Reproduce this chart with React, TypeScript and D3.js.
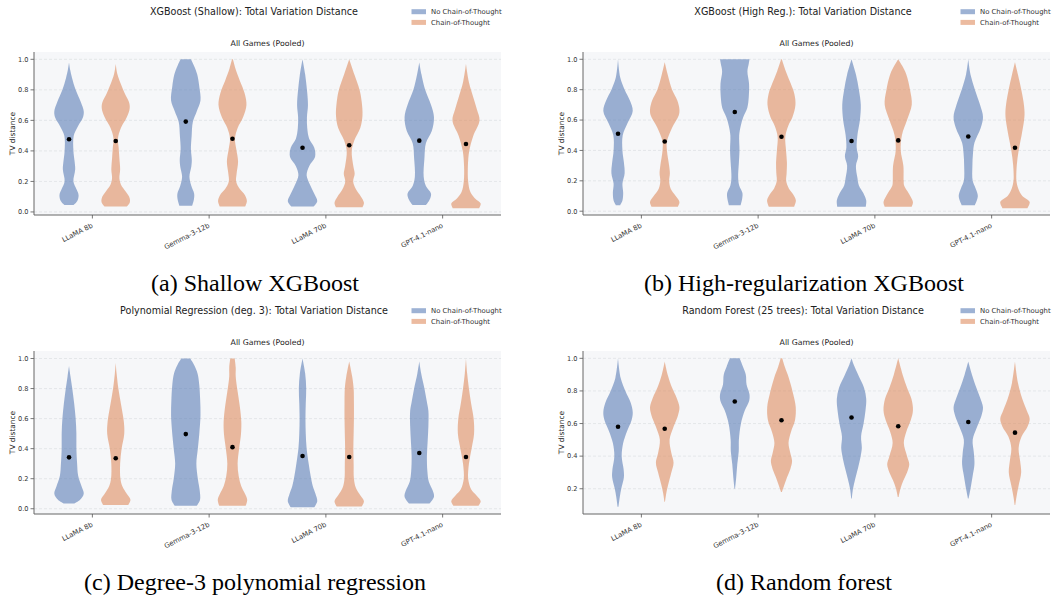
import React from "react";
import * as d3 from "d3";

const W = 1055;
const H = 596;

const models = ["LLaMA 8b", "Gemma-3-12b", "LLaMA 70b", "GPT-4.1-nano"];
const seriesNames = ["No Chain-of-Thought", "Chain-of-Thought"];
const seriesColors = ["#4c72b0", "#dd8452"];

const suptitles = [
  "XGBoost (Shallow): Total Variation Distance",
  "XGBoost (High Reg.): Total Variation Distance",
  "Polynomial Regression (deg. 3): Total Variation Distance",
  "Random Forest (25 trees): Total Variation Distance",
];
const captions = [
  "(a) Shallow XGBoost",
  "(b) High-regularization XGBoost",
  "(c) Degree-3 polynomial regression",
  "(d) Random forest",
];
const subTitle = "All Games (Pooled)";
const yLabel = "TV distance";

const yTicksFull = [0, 0.2, 0.4, 0.6, 0.8, 1.0];
const yTicksForest = [0.2, 0.4, 0.6, 0.8, 1.0];
const yDomainA = [-0.02, 1.048];
const yDomainB = [-0.025, 1.048];
const yDomainC = [-0.035, 1.05];
const yDomainD = [0.045, 1.045];

// mean markers
const shallowNoCotMeans = [0.476, 0.592, 0.421, 0.467];
const shallowCotMeans = [0.465, 0.48, 0.437, 0.445];
const highRegNoCotMeans = [0.51, 0.653, 0.462, 0.492];
const highRegCotMeans = [0.459, 0.49, 0.466, 0.418];
const polyNoCotMeans = [0.342, 0.497, 0.351, 0.371];
const polyCotMeans = [0.336, 0.41, 0.344, 0.344];
const forestNoCotMeans = [0.58, 0.735, 0.637, 0.609];
const forestCotMeans = [0.568, 0.62, 0.583, 0.544];

// violin profiles: [TV distance, relative half-width]
const shallowNoCotShapes = [
  [[0.045,0.3],[0.07,0.55],[0.11,0.65],[0.15,0.5],[0.2,0.3],[0.28,0.42],[0.33,0.38],[0.4,0.3],[0.5,0.32],[0.56,0.6],[0.62,0.95],[0.66,1.0],[0.72,0.8],[0.8,0.45],[0.88,0.2],[0.93,0.08],[0.98,0]],
  [[0.04,0.43],[0.08,0.55],[0.12,0.57],[0.17,0.38],[0.23,0.25],[0.3,0.38],[0.34,0.41],[0.41,0.35],[0.5,0.4],[0.59,0.48],[0.66,0.75],[0.73,1.0],[0.82,0.92],[0.9,0.78],[0.96,0.55],[1.0,0.35]],
  [[0.035,0.75],[0.07,1.0],[0.12,0.8],[0.18,0.5],[0.24,0.28],[0.3,0.45],[0.36,0.85],[0.42,0.8],[0.48,0.45],[0.55,0.32],[0.62,0.3],[0.7,0.37],[0.8,0.3],[0.9,0.18],[1.0,0]],
  [[0.045,0.45],[0.08,0.7],[0.12,0.8],[0.17,0.45],[0.23,0.3],[0.35,0.35],[0.45,0.45],[0.53,0.85],[0.62,1.0],[0.7,0.8],[0.8,0.4],[0.9,0.15],[0.98,0]],
];
const shallowCotShapes = [
  [[0.035,0.75],[0.06,0.95],[0.09,0.95],[0.13,0.7],[0.18,0.35],[0.22,0.25],[0.28,0.3],[0.35,0.25],[0.42,0.2],[0.48,0.15],[0.55,0.35],[0.62,0.75],[0.68,0.95],[0.72,0.9],[0.78,0.6],[0.85,0.3],[0.9,0.12],[0.97,0]],
  [[0.035,0.86],[0.07,0.98],[0.11,0.85],[0.15,0.5],[0.2,0.25],[0.25,0.28],[0.33,0.38],[0.41,0.26],[0.48,0.17],[0.55,0.35],[0.62,0.72],[0.7,0.95],[0.78,0.82],[0.86,0.5],[0.94,0.2],[1.0,0.03]],
  [[0.03,0.9],[0.06,1.0],[0.1,0.8],[0.15,0.45],[0.2,0.27],[0.25,0.37],[0.3,0.28],[0.4,0.17],[0.47,0.35],[0.55,0.75],[0.63,0.9],[0.72,0.85],[0.8,0.7],[0.9,0.35],[1.0,0]],
  [[0.025,0.9],[0.055,1.0],[0.09,0.6],[0.13,0.3],[0.2,0.15],[0.3,0.13],[0.4,0.22],[0.5,0.5],[0.6,0.92],[0.67,0.75],[0.75,0.5],[0.85,0.2],[0.97,0]],
];
const highRegNoCotShapes = [
  [[0.04,0.15],[0.07,0.3],[0.12,0.35],[0.18,0.3],[0.25,0.45],[0.32,0.4],[0.4,0.3],[0.5,0.32],[0.58,0.65],[0.66,1.0],[0.73,0.8],[0.8,0.45],[0.88,0.15],[1.0,0]],
  [[0.04,0.4],[0.08,0.5],[0.12,0.52],[0.17,0.3],[0.22,0.23],[0.32,0.28],[0.4,0.32],[0.5,0.3],[0.56,0.4],[0.62,0.58],[0.68,0.85],[0.75,0.95],[0.84,0.97],[0.92,0.86],[0.97,0.95],[1.0,1.0]],
  [[0.03,0.97],[0.07,1.0],[0.12,0.8],[0.17,0.5],[0.22,0.4],[0.3,0.3],[0.36,0.45],[0.42,0.35],[0.5,0.4],[0.6,0.57],[0.7,0.63],[0.8,0.5],[0.9,0.3],[1.0,0]],
  [[0.04,0.45],[0.1,0.65],[0.15,0.5],[0.2,0.3],[0.3,0.28],[0.38,0.32],[0.45,0.42],[0.55,0.85],[0.62,1.0],[0.7,0.8],[0.8,0.45],[0.9,0.15],[1.0,0]],
];
const highRegCotShapes = [
  [[0.03,0.9],[0.06,1.0],[0.1,0.75],[0.15,0.4],[0.2,0.3],[0.25,0.35],[0.3,0.3],[0.4,0.15],[0.46,0.15],[0.55,0.5],[0.63,0.95],[0.67,1.0],[0.73,0.85],[0.8,0.5],[0.9,0.2],[0.98,0]],
  [[0.03,0.86],[0.07,0.98],[0.11,0.8],[0.15,0.5],[0.2,0.32],[0.25,0.35],[0.32,0.37],[0.4,0.31],[0.49,0.26],[0.56,0.45],[0.62,0.75],[0.7,0.95],[0.77,0.88],[0.84,0.63],[0.92,0.3],[1.0,0.02]],
  [[0.03,0.92],[0.06,1.0],[0.12,0.7],[0.17,0.4],[0.2,0.37],[0.3,0.35],[0.4,0.17],[0.5,0.25],[0.6,0.6],[0.7,0.92],[0.8,0.8],[0.9,0.55],[0.96,0.25],[1.0,0]],
  [[0.02,0.85],[0.06,1.0],[0.1,0.5],[0.15,0.22],[0.2,0.1],[0.3,0.12],[0.4,0.25],[0.5,0.45],[0.6,0.62],[0.65,0.65],[0.72,0.58],[0.8,0.43],[0.9,0.2],[0.98,0]],
];
const polyNoCotShapes = [
  [[0.035,0.35],[0.06,0.75],[0.1,1.0],[0.15,0.85],[0.22,0.62],[0.3,0.55],[0.4,0.5],[0.5,0.5],[0.6,0.45],[0.7,0.35],[0.8,0.22],[0.88,0.1],[0.95,0]],
  [[0.02,0.75],[0.06,0.97],[0.12,0.95],[0.2,0.82],[0.3,0.72],[0.4,0.82],[0.5,0.92],[0.62,1.0],[0.72,0.98],[0.82,0.92],[0.9,0.8],[0.96,0.55],[1.0,0.3]],
  [[0.01,0.8],[0.05,1.0],[0.1,0.88],[0.15,0.7],[0.22,0.55],[0.3,0.42],[0.4,0.28],[0.5,0.22],[0.6,0.2],[0.7,0.22],[0.8,0.25],[0.9,0.18],[1.0,0]],
  [[0.035,0.7],[0.08,1.0],[0.12,0.92],[0.18,0.65],[0.25,0.55],[0.35,0.52],[0.45,0.57],[0.55,0.62],[0.65,0.62],[0.72,0.5],[0.8,0.35],[0.9,0.13],[0.98,0]],
];
const polyCotShapes = [
  [[0.025,0.85],[0.06,1.0],[0.1,0.75],[0.15,0.45],[0.2,0.32],[0.3,0.3],[0.4,0.4],[0.5,0.58],[0.58,0.55],[0.7,0.35],[0.8,0.18],[0.9,0.06],[0.97,0]],
  [[0.02,0.9],[0.06,1.0],[0.1,0.85],[0.15,0.6],[0.22,0.42],[0.3,0.35],[0.4,0.45],[0.5,0.58],[0.58,0.6],[0.68,0.5],[0.78,0.35],[0.88,0.22],[0.94,0.22],[1.0,0.15]],
  [[0.015,0.85],[0.05,1.0],[0.09,0.75],[0.14,0.45],[0.2,0.32],[0.3,0.3],[0.4,0.28],[0.5,0.3],[0.6,0.32],[0.7,0.32],[0.8,0.3],[0.88,0.2],[0.98,0]],
  [[0.02,0.85],[0.05,1.0],[0.09,0.7],[0.13,0.35],[0.2,0.15],[0.3,0.2],[0.4,0.38],[0.5,0.55],[0.6,0.52],[0.7,0.35],[0.8,0.2],[0.9,0.08],[1.0,0]],
];
const forestNoCotShapes = [
  [[0.09,0.03],[0.15,0.12],[0.2,0.22],[0.27,0.4],[0.32,0.38],[0.4,0.25],[0.48,0.35],[0.55,0.6],[0.62,0.92],[0.67,1.0],[0.73,0.85],[0.8,0.5],[0.88,0.18],[1.0,0]],
  [[0.2,0.02],[0.27,0.1],[0.35,0.17],[0.43,0.27],[0.5,0.28],[0.6,0.42],[0.68,0.68],[0.74,0.98],[0.78,1.0],[0.84,0.8],[0.9,0.75],[0.95,0.55],[1.0,0.33]],
  [[0.14,0.02],[0.2,0.1],[0.26,0.25],[0.33,0.45],[0.4,0.62],[0.45,0.7],[0.52,0.65],[0.6,0.82],[0.68,0.95],[0.75,1.0],[0.82,0.85],[0.9,0.45],[0.96,0.15],[1.0,0]],
  [[0.14,0.02],[0.2,0.15],[0.28,0.3],[0.35,0.42],[0.42,0.38],[0.5,0.3],[0.58,0.6],[0.65,0.9],[0.7,1.0],[0.76,0.8],[0.82,0.55],[0.9,0.25],[0.98,0]],
];
const forestCotShapes = [
  [[0.12,0.02],[0.17,0.1],[0.22,0.22],[0.3,0.45],[0.36,0.6],[0.42,0.45],[0.5,0.33],[0.58,0.6],[0.65,0.9],[0.7,1.0],[0.76,0.8],[0.82,0.5],[0.9,0.2],[0.98,0]],
  [[0.18,0.03],[0.22,0.18],[0.27,0.38],[0.32,0.6],[0.37,0.72],[0.42,0.6],[0.48,0.48],[0.55,0.65],[0.62,0.92],[0.7,0.97],[0.78,0.8],[0.88,0.5],[0.95,0.22],[1.0,0.05]],
  [[0.15,0.03],[0.2,0.15],[0.25,0.35],[0.3,0.6],[0.35,0.75],[0.4,0.6],[0.48,0.38],[0.55,0.55],[0.62,0.85],[0.68,1.0],[0.75,0.9],[0.82,0.6],[0.9,0.3],[1.0,0]],
  [[0.1,0.02],[0.15,0.1],[0.22,0.25],[0.3,0.42],[0.37,0.35],[0.45,0.25],[0.52,0.45],[0.58,0.85],[0.63,1.0],[0.68,0.8],[0.75,0.5],[0.85,0.2],[0.98,0]],
];

const panels = [
  { dx: 0, dy: 0, title: suptitles[0], caption: captions[0], yDomain: yDomainA, yTicks: yTicksFull,
    means: [shallowNoCotMeans, shallowCotMeans], shapes: [shallowNoCotShapes, shallowCotShapes] },
  { dx: 549, dy: 0, title: suptitles[1], caption: captions[1], yDomain: yDomainB, yTicks: yTicksFull,
    means: [highRegNoCotMeans, highRegCotMeans], shapes: [highRegNoCotShapes, highRegCotShapes] },
  { dx: 0, dy: 299, title: suptitles[2], caption: captions[2], yDomain: yDomainC, yTicks: yTicksFull,
    means: [polyNoCotMeans, polyCotMeans], shapes: [polyNoCotShapes, polyCotShapes] },
  { dx: 549, dy: 299, title: suptitles[3], caption: captions[3], yDomain: yDomainD, yTicks: yTicksForest,
    means: [forestNoCotMeans, forestCotMeans], shapes: [forestNoCotShapes, forestCotShapes] },
];

const AX_L = 34, AX_R = 501, AX_T = 52, AX_B = 215;
const SANS = "'DejaVu Sans', sans-serif";

function Panel({ p }: { p: any }) {
  const x = d3.scaleBand<string>().domain(models).range([AX_L, AX_R]).padding(0);
  const bw = x.bandwidth();
  const y = d3.scaleLinear().domain(p.yDomain).range([AX_B, AX_T]);
  const wScale = d3.scaleLinear().domain([0, 1]).range([0, bw * 0.126]);
  const offsets = [-0.2 * bw, 0.2 * bw];

  return (
    <g transform={`translate(${p.dx},${p.dy})`}>
      <text x={254} y={14.5} textAnchor="middle" fontFamily={SANS} fontSize={9.6} fill="#222">{p.title}</text>
      {seriesNames.map((s, i) => (
        <g key={s}>
          <rect x={411.5} y={9.2 + i * 10.7} width={14.5} height={5} fill={seriesColors[i]} fillOpacity={0.55} />
          <text x={431} y={14 + i * 10.7} fontFamily={SANS} fontSize={6.9} fill="#333">{s}</text>
        </g>
      ))}
      <text x={(AX_L + AX_R) / 2} y={46} textAnchor="middle" fontFamily={SANS} fontSize={7.8} fill="#222">{subTitle}</text>
      <rect x={AX_L} y={AX_T} width={AX_R - AX_L} height={AX_B - AX_T} fill="#f6f7f9" />
      {p.yTicks.map((t: number) => (
        <g key={t}>
          <line x1={AX_L} x2={AX_R} y1={y(t)} y2={y(t)} stroke="#dcdfe3" strokeWidth={0.7} strokeDasharray="3,2" />
          <line x1={AX_L - 3.5} x2={AX_L} y1={y(t)} y2={y(t)} stroke="#555" strokeWidth={0.8} />
          <text x={AX_L - 5.5} y={y(t)} dy="0.35em" textAnchor="end" fontFamily={SANS} fontSize={6.6} fill="#333">{d3.format(".1f")(t)}</text>
        </g>
      ))}
      {models.map((m, mi) =>
        [0, 1].map((si) => {
          const cx = (x(m) as number) + bw / 2 + offsets[si];
          const shape = p.shapes[si][mi] as [number, number][];
          const area = d3.area<[number, number]>()
            .curve(d3.curveCatmullRom.alpha(0.5))
            .y((d) => y(d[0]))
            .x0((d) => cx - wScale(d[1]))
            .x1((d) => cx + wScale(d[1]));
          return (
            <g key={`${m}-${si}`}>
              <path d={area(shape) || ""} fill={seriesColors[si]} fillOpacity={0.55} />
              <circle cx={cx} cy={y(p.means[si][mi])} r={2.3} fill="#000" />
            </g>
          );
        })
      )}
      <line x1={AX_L} x2={AX_L} y1={AX_T} y2={AX_B} stroke="#666" strokeWidth={1} />
      <line x1={AX_L} x2={AX_R} y1={AX_B} y2={AX_B} stroke="#666" strokeWidth={1} />
      {models.map((m) => {
        const cx = (x(m) as number) + bw / 2;
        return (
          <g key={m}>
            <line x1={cx} x2={cx} y1={AX_B} y2={AX_B + 3.5} stroke="#555" strokeWidth={0.8} />
            <text transform={`translate(${cx + 1},${AX_B + 12}) rotate(-27)`} textAnchor="end" fontFamily={SANS} fontSize={6.9} fill="#333">{m}</text>
          </g>
        );
      })}
      <text transform={`translate(12,${(AX_T + AX_B) / 2}) rotate(-90)`} textAnchor="middle" dy="0.35em" fontFamily={SANS} fontSize={7.4} fill="#222">{yLabel}</text>
      <text x={255} y={290.5} textAnchor="middle" fontFamily="'Liberation Serif', 'Times New Roman', serif" fontSize={24} fill="#000">{p.caption}</text>
    </g>
  );
}

export default function App() {
  return (
    <svg width={W} height={H} style={{ position: "absolute", left: 0, top: 0, background: "#fff" }}>
      <rect width={W} height={H} fill="#fff" />
      {panels.map((p, i) => <Panel key={i} p={p} />)}
    </svg>
  );
}
